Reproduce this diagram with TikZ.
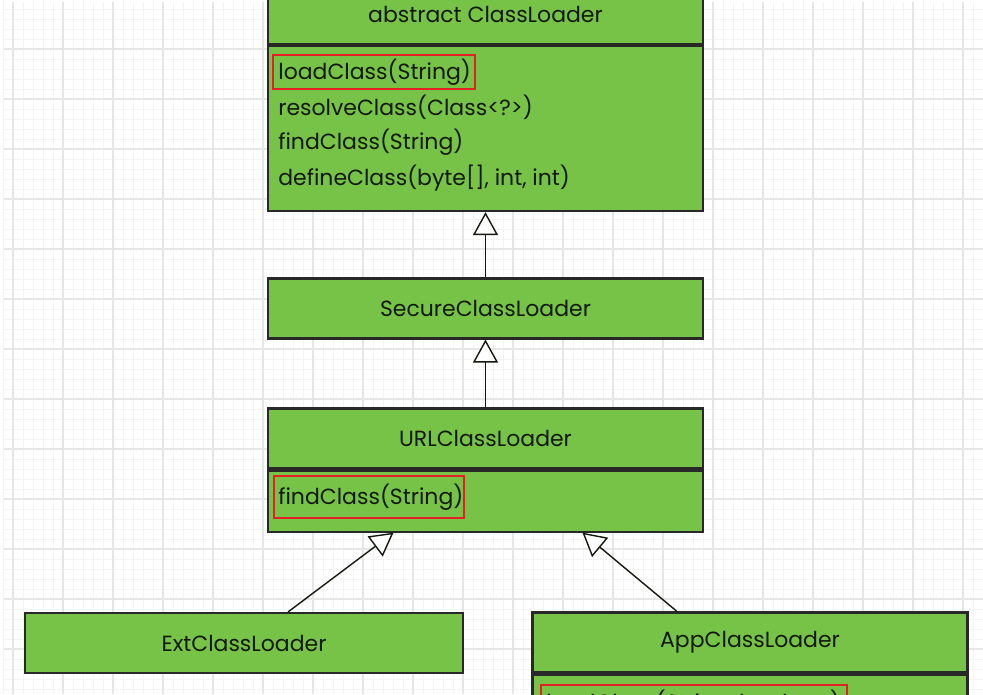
\documentclass[tikz,border=0pt]{standalone}
\usepackage{fontspec}
\usepackage{xcolor}
\usepackage{tikz}
\usetikzlibrary{positioning,calc,arrows.meta}
\setmainfont{Poppins}

\definecolor{loadergreen}{RGB}{119,195,71}
\definecolor{boxline}{RGB}{40,40,40}
\definecolor{markred}{RGB}{228,32,38}
\definecolor{ink}{RGB}{20,25,15}
\definecolor{gridminor}{RGB}{244,244,244}
\definecolor{gridmajor}{RGB}{230,230,230}

\tikzset{
    classhead/.style={draw=boxline, fill=loadergreen, line width=1.2pt, minimum width=8.7cm, minimum height=1.2cm, text=ink, font=\fontsize{12.5}{15}\selectfont},
    classbody/.style={draw=boxline, fill=loadergreen, line width=1.2pt, minimum width=8.7cm},
    method/.style={anchor=west, inner sep=0pt, text=ink, font=\fontsize{12.5}{15}\selectfont},
    redmark/.style={draw=markred, line width=1.1pt},
    inherit/.style={draw=ink, line width=0.8pt, -{Triangle[length=0.46cm, width=0.5cm, fill=white]}},
    minorline/.style={draw=gridminor, line width=0.3pt},
    majorline/.style={draw=gridmajor, line width=0.6pt}
}

\begin{document}
\begin{tikzpicture}[x=0.02cm, y=-0.02cm]
    % Fix the frame and the paper
    \useasboundingbox (0,0) rectangle (983,694);
    \clip (0,0) rectangle (983,694);
    \fill[white] (0,0) rectangle (983,694);

    % Draw the background grid
    \foreach \gx in {3,13,...,983}
        \draw[minorline] (\gx,2) -- (\gx,694);
    \foreach \gy in {9,19,...,694}
        \draw[minorline] (4,\gy) -- (983,\gy);
    \foreach \gx in {13,63,...,983}
        \draw[majorline] (\gx,2) -- (\gx,694);
    \foreach \gy in {49,99,...,694}
        \draw[majorline] (4,\gy) -- (983,\gy);

    % Draw the class boxes
    \node[classhead] (cl) at (485.5,14) {abstract ClassLoader};
    \node[classbody, minimum height=3.3cm, below=0pt of cl] (clbody) {};
    \node[classhead] (sec) at (485.5,308.5) {SecureClassLoader};
    \node[classhead] (url) at (485.5,438.5) {URLClassLoader};
    \node[classbody, minimum height=1.22cm, below=0pt of url] (urlbody) {};
    \node[classhead, minimum width=8.76cm] (ext) at (244,643) {ExtClassLoader};
    \node[classhead] (app) at (750,642.5) {AppClassLoader};
    \node[classbody, minimum height=1.8cm, below=0pt of app] (appbody) {};

    % List the methods
    \node[method] (loadcl) at (278,72) {loadClass(String)};
    \node[method] (resolvecl) at (278,107) {resolveClass(Class<?>)};
    \node[method] (findcl) at (278,142) {findClass(String)};
    \node[method] (definecl) at (278,178) {defineClass(byte[], int, int)};
    \node[method] (findurl) at (278,497) {findClass(String)};
    \node[method] (loadapp) at (546,703) {loadClass(String, boolean)};

    % Mark the overridden methods
    \draw[redmark] (273,55) rectangle (475,89);
    \draw[redmark] (274,476) rectangle (464,518);
    \draw[redmark] (541,685) rectangle (847,740);

    % Arrows for inheritance
    \draw[inherit] (sec) -- (clbody);
    \draw[inherit] (url) -- (sec);
    \draw[inherit] ($(ext.north)+(44,0)$) -- ($(urlbody.south)+(-92,0)$);
    \draw[inherit] ($(app.north)+(-73,0)$) -- ($(urlbody.south)+(97,0)$);
\end{tikzpicture}
\end{document}
